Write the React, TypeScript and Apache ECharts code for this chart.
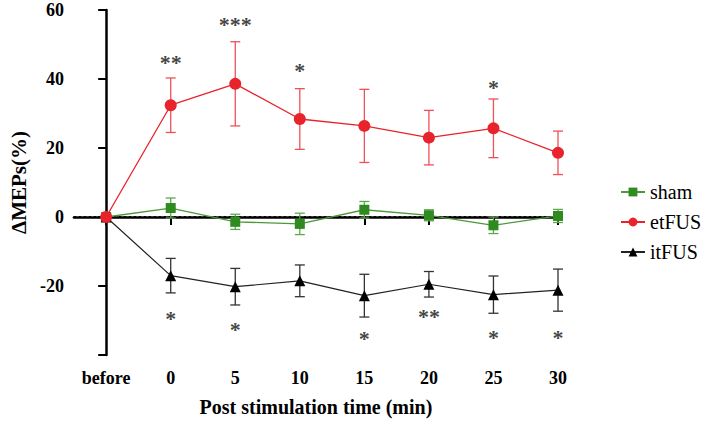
import React, { useEffect, useRef } from "react";
import * as echarts from "echarts";

const categories = ["before", "0", "5", "10", "15", "20", "25", "30"];
const shamMean = [0, 2.6, -1.4, -2.0, 2.1, 0.5, -2.4, 0.3];
const shamErr = [0, 2.9, 2.2, 3.1, 2.4, 1.6, 2.4, 1.9];
const etMean = [0, 32.4, 38.6, 28.4, 26.4, 23.0, 25.7, 18.6];
const etErr = [0, 7.9, 12.2, 8.8, 10.6, 7.9, 8.5, 6.3];
const itMean = [0, -17.0, -20.2, -18.5, -22.8, -19.5, -22.5, -21.2];
const itErr = [0, 5.0, 5.3, 4.6, 6.2, 3.7, 5.4, 6.1];
const yTicks = [-40, -20, 0, 20, 40, 60];

// significance marks: category index, text, y value
const sigIdx = [1, 2, 3, 6, 1, 2, 4, 5, 6, 7];
const sigText = ["**", "***", "*", "*", "*", "*", "*", "**", "*", "*"];
const sigY = [46.4, 57.5, 44.1, 39.3, -27.6, -31.0, -33.4, -27.2, -33.1, -33.1];

const FONT = "Liberation Serif";
const RED = "#e8232b";
const RED_ERR = "#ef5157";
const GREEN = "#2f8a1f";
const GREEN_ERR = "#5fa84f";
const BLACK = "#000000";

function errSeries(mean: number[], err: number[], color: string, z: number) {
  return {
    type: "custom",
    z,
    silent: true,
    data: mean.map((m, i) => [i, m - err[i], m + err[i]]),
    renderItem: (params: any, api: any) => {
      const x = api.value(0);
      const lo = api.value(1);
      const hi = api.value(2);
      if (hi - lo <= 0) return { type: "group", children: [] };
      const pLo = api.coord([x, lo]);
      const pHi = api.coord([x, hi]);
      const w = 5;
      const style = { stroke: color, lineWidth: 1.3, fill: "none" };
      return {
        type: "group",
        children: [
          { type: "line", shape: { x1: pLo[0], y1: pLo[1], x2: pHi[0], y2: pHi[1] }, style },
          { type: "line", shape: { x1: pLo[0] - w, y1: pLo[1], x2: pLo[0] + w, y2: pLo[1] }, style },
          { type: "line", shape: { x1: pHi[0] - w, y1: pHi[1], x2: pHi[0] + w, y2: pHi[1] }, style },
        ],
      };
    },
  };
}

export default function App() {
  const ref = useRef<HTMLDivElement>(null);
  useEffect(() => {
    document.body.style.margin = "0";
    if (!ref.current) return;
    const chart = echarts.init(ref.current, null, { renderer: "svg" });
    const idx = categories.map((_, i) => i);
    chart.setOption({
      animation: false,
      backgroundColor: "#ffffff",
      grid: { left: 70, right: 151, top: 10, bottom: 66, containLabel: false },
      legend: {
        orient: "vertical",
        left: 615,
        top: 177,
        itemWidth: 24,
        itemHeight: 11,
        itemGap: 10,
        data: ["sham", "etFUS", "itFUS"],
        textStyle: { fontFamily: FONT, fontSize: 20, color: "#000" },
      },
      xAxis: {
        type: "value",
        min: -0.5,
        max: 7,
        splitLine: { show: false },
        axisLine: { lineStyle: { color: "#000", width: 2.5 } },
        axisTick: { customValues: idx, length: 8, lineStyle: { color: "#000", width: 2 } },
        axisLabel: {
          customValues: idx,
          formatter: (v: number) => categories[Math.round(v)] ?? "",
          fontFamily: FONT,
          fontWeight: "bold",
          fontSize: 18,
          color: "#000",
          margin: 14,
        },
        name: "Post stimulation time (min)",
        nameLocation: "middle",
        nameGap: 42,
        nameTextStyle: { fontFamily: FONT, fontWeight: "bold", fontSize: 20, color: "#000" },
      },
      yAxis: {
        type: "value",
        min: -40,
        max: 60,
        interval: 20,
        splitLine: { show: false },
        axisLine: { show: true, lineStyle: { color: "#000", width: 2.5 } },
        axisTick: { show: true, length: 8, lineStyle: { color: "#000", width: 2 } },
        axisLabel: {
          formatter: (v: number) => (v === yTicks[0] ? "" : String(v)),
          fontFamily: FONT,
          fontWeight: "bold",
          fontSize: 18,
          color: "#000",
          margin: 10,
        },
        name: "ΔMEPs(%)",
        nameLocation: "middle",
        nameGap: 44,
        nameTextStyle: { fontFamily: FONT, fontWeight: "bold", fontSize: 21, color: "#000" },
      },
      series: [
        {
          name: "sham",
          type: "line",
          z: 3,
          data: shamMean.map((v, i) => [i, v]),
          symbol: "rect",
          symbolSize: 10,
          itemStyle: { color: GREEN },
          lineStyle: { color: "#4a9a3a", width: 1.3 },
          markLine: {
            silent: true,
            symbol: "none",
            z: 1,
            label: { show: false },
            lineStyle: { color: "#000", type: [2, 3], width: 2 },
            data: [{ yAxis: 0 }],
          },
        },
        errSeries(shamMean, shamErr, GREEN_ERR, 2),
        {
          name: "etFUS",
          type: "line",
          z: 5,
          data: etMean.map((v, i) => [i, v]),
          symbol: "circle",
          symbolSize: 12,
          itemStyle: { color: RED },
          lineStyle: { color: RED, width: 1.3 },
        },
        errSeries(etMean, etErr, RED_ERR, 4),
        {
          name: "itFUS",
          type: "line",
          z: 3,
          data: itMean.map((v, i) => [i, v]),
          symbol: "triangle",
          symbolSize: 11,
          itemStyle: { color: BLACK },
          lineStyle: { color: "#222", width: 1.2 },
        },
        errSeries(itMean, itErr, "#333", 2),
        {
          type: "scatter",
          silent: true,
          z: 6,
          symbolSize: 0,
          itemStyle: { color: "#000" },
          data: sigIdx.map((x, i) => ({ value: [x, sigY[i]], text: sigText[i] })),
          label: {
            show: true,
            position: "inside",
            offset: [0, 6],
            formatter: (p: any) => p.data.text,
            fontFamily: FONT,
            fontWeight: "bold",
            fontSize: 22,
            color: "#111",
            textBorderWidth: 0,
          },
        },
      ],
    });
    return () => chart.dispose();
  }, []);
  return <div ref={ref} style={{ width: 709, height: 422 }} />;
}
